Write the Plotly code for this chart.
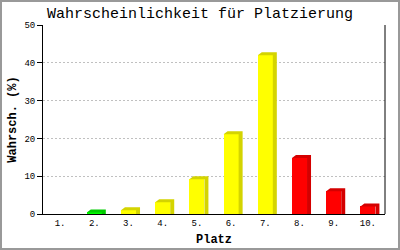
import plotly.graph_objects as go

categories = ["1.", "2.", "3.", "4.", "5.", "6.", "7.", "8.", "9.", "10."]
values = [0.0, 0.4, 1.0, 3.1, 9.2, 21.1, 42.0, 14.8, 6.0, 2.0]
front_colors = ["#00ff00", "#00ff00", "#ffff00", "#ffff00", "#ffff00",
                "#ffff00", "#ffff00", "#ff0000", "#ff0000", "#ff0000"]
side_colors = ["#00cc00", "#00cc00", "#d4d400", "#d4d400", "#d4d400",
               "#d4d400", "#d4d400", "#d40000", "#d40000", "#d40000"]
y_ticks = [0, 10, 20, 30, 40, 50]

W, H = 400, 250
ML, MR, MT, MB = 43, 15, 25, 36
pw, ph = W - ML - MR, H - MT - MB
ymax = 50
xs = list(range(1, len(categories) + 1))
bw = 0.44
dx = 4 / (pw / len(categories))   # 4 px depth to the right
dy = 3 / (ph / ymax)              # 3 px depth upward

fig = go.Figure()
font = "Liberation Mono, Courier New, monospace"

for x, v, fc, sc in zip(xs, values, front_colors, side_colors):
    if v <= 0:
        continue
    l, r = x - bw / 2, x + bw / 2
    px = [l, l + dx, r + dx, r + dx, r, r, l]
    py = [v, v + dy, v + dy, 0, 0, v, v]
    fig.add_trace(go.Scatter(x=px, y=py, mode="lines", fill="toself",
                             fillcolor=sc, line=dict(width=0), hoverinfo="skip",
                             showlegend=False))

fig.add_trace(go.Bar(x=xs, y=values, width=bw, marker=dict(color=front_colors, line=dict(width=0)),
                     showlegend=False))

fig.update_layout(
    width=W, height=H, margin=dict(l=ML, r=MR, t=MT, b=MB, pad=0, autoexpand=False),
    paper_bgcolor="white", plot_bgcolor="white",
    title=dict(text="Wahrscheinlichkeit für Platzierung", x=0.5, xanchor="center",
               y=1 - 13 / H, yanchor="middle", automargin=False,
               font=dict(family=font, size=15, color="black")),
    xaxis=dict(range=[0.5, len(categories) + 0.5], tickvals=xs, ticktext=categories,
               showline=True, linecolor="black", linewidth=1, ticks="", showgrid=False,
               zeroline=False, automargin=False,
               tickfont=dict(family=font, size=9, color="black"),
               title=dict(text="<b>Platz</b>", font=dict(family=font, size=12, color="black"),
                          standoff=6)),
    yaxis=dict(range=[0, ymax], tickvals=y_ticks, showline=True, linecolor="black",
               linewidth=1, ticks="outside", ticklen=5, tickcolor="black",
               showgrid=True, gridcolor="#c0c0c0", griddash="2px,2px", gridwidth=1,
               zeroline=False, automargin=False,
               tickfont=dict(family=font, size=9, color="black"),
               title=dict(text="<b>Wahrsch. (%)</b>", font=dict(family=font, size=12, color="black"),
                          standoff=5)),
    bargap=0,
)

# right axis line
fig.add_shape(type="line", xref="paper", yref="paper", x0=1, x1=1, y0=0, y1=1,
              line=dict(color="black", width=1), layer="above")
# outer frame
fig.add_shape(type="rect", xref="paper", yref="paper",
              x0=(1 - ML) / pw, x1=(W - 1 - ML) / pw,
              y0=-(MB - 1) / ph, y1=(H - 1 - MB) / ph,
              line=dict(color="#999999", width=2), layer="above")

fig.write_html("out.html")
